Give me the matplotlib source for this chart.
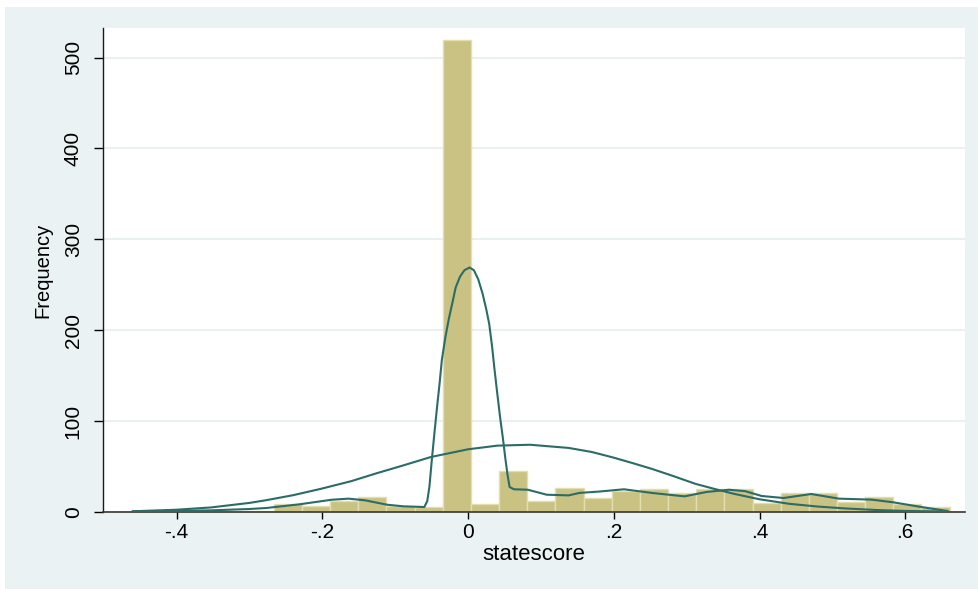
import numpy as np
import matplotlib.pyplot as plt
from matplotlib.patches import Rectangle

# histogram of statescore (29 bins)
counts = [1, 0, 0, 0, 1, 9, 7, 12, 17, 7, 5, 519, 9, 45, 12, 26, 15,
          23, 25, 21, 25, 25, 10, 21, 21, 11, 17, 9, 5]
bin_start = -0.4597
bin_width = 0.03864

# kernel density, scaled to frequency
kde_x = [-0.460, -0.400, -0.353, -0.300, -0.277, -0.232, -0.187, -0.164,
         -0.141, -0.111, -0.088, -0.060, -0.056, -0.053, -0.050, -0.046,
         -0.043, -0.039, -0.036, -0.031, -0.026, -0.021, -0.017, -0.011,
         -0.005, 0.002, 0.008, 0.014, 0.020, 0.025, 0.029, 0.033, 0.036,
         0.040, 0.044, 0.048, 0.051, 0.054, 0.057, 0.063, 0.082, 0.108,
         0.138, 0.153, 0.180, 0.214, 0.252, 0.297, 0.327, 0.358, 0.380,
         0.403, 0.433, 0.471, 0.509, 0.554, 0.584, 0.622, 0.658]
kde_y = [0.7, 1.2, 1.8, 3.3, 4.4, 8.4, 13.5, 14.7, 12.8, 8.0, 6.2, 5.5, 12,
         28, 55, 88, 112, 142, 167, 193, 214, 232, 247, 259, 266, 269, 266,
         256, 240, 223, 207, 182, 159, 131, 104, 80, 60, 42, 27.5, 25, 24.5,
         19, 18.3, 21, 22.5, 25, 21, 17.2, 22, 24.5, 23, 17.6, 15.4, 19.8,
         14.7, 13.6, 10.6, 5.5, 1.1]

# normal density, scaled to frequency
norm_x = [-0.460, -0.400, -0.353, -0.300, -0.277, -0.240, -0.202, -0.160,
          -0.126, -0.090, -0.051, 0.000, 0.040, 0.085, 0.138, 0.170, 0.199,
          0.225, 0.252, 0.280, 0.312, 0.340, 0.365, 0.400, 0.441, 0.480,
          0.516, 0.560, 0.599, 0.658]
norm_y = [0.8, 2.5, 5.0, 10.0, 13.0, 18.5, 25.5, 34.0, 42.5, 51.0, 60.5,
          69.0, 73.0, 74.0, 70.5, 66.0, 60.0, 54.0, 47.5, 40.0, 31.0, 25.0,
          20.0, 14.0, 9.0, 6.0, 4.0, 2.2, 1.2, 0.5]

xticks = [-0.4, -0.2, 0, 0.2, 0.4, 0.6]
xtick_labels = ['-.4', '-.2', '0', '.2', '.4', '.6']
yticks = [0, 100, 200, 300, 400, 500]

plt.rcParams['font.family'] = ['Liberation Sans', 'DejaVu Sans']

W, H = 979, 589
fig = plt.figure(figsize=(W / 100, H / 100), dpi=100, facecolor='white')
fig.patches.append(Rectangle((5 / W, 0), (W - 5) / W, (H - 7) / H,
                             transform=fig.transFigure, facecolor='#eaf2f3',
                             edgecolor='none', zorder=-10))
ax = fig.add_axes([103 / W, 1 - 512 / H, 862 / W, 484 / H])
ax.set_facecolor('white')

edges = bin_start + bin_width * np.arange(len(counts) + 1)
ax.bar(edges[:-1], counts, width=bin_width, align='edge', color='#cac282',
       edgecolor='#e2deb0', linewidth=1.0, zorder=2)
ax.plot(kde_x, kde_y, color='#2b6c66', lw=1.5, zorder=3)
ax.plot(norm_x, norm_y, color='#2b6c66', lw=1.5, zorder=3)

ax.set_xlim(-0.501, 0.682)
ax.set_ylim(0, 532.5)

ax.set_xticks(xticks)
ax.set_xticklabels(xtick_labels)
ax.set_yticks(yticks)
ax.set_yticklabels([str(v) for v in yticks], rotation=90, va='center')

ax.set_axisbelow(True)
ax.yaxis.grid(True, color='#e8f0f1', linewidth=1.5)

for s in ['top', 'right']:
    ax.spines[s].set_visible(False)
ax.spines['left'].set_color('#1a1a1a')
ax.spines['bottom'].set_color('#3a3530')
ax.spines['left'].set_linewidth(1.0)
ax.spines['bottom'].set_linewidth(1.2)

ax.tick_params(axis='y', length=6.5, width=1, pad=8, labelsize=15)
ax.tick_params(axis='x', length=5, width=1, pad=3, labelsize=15)

ax.set_xlabel('statescore', fontsize=16, labelpad=1)
ax.set_ylabel('Frequency', fontsize=14.5, labelpad=8)

fig.savefig('out.png', dpi=100, facecolor=fig.get_facecolor())
